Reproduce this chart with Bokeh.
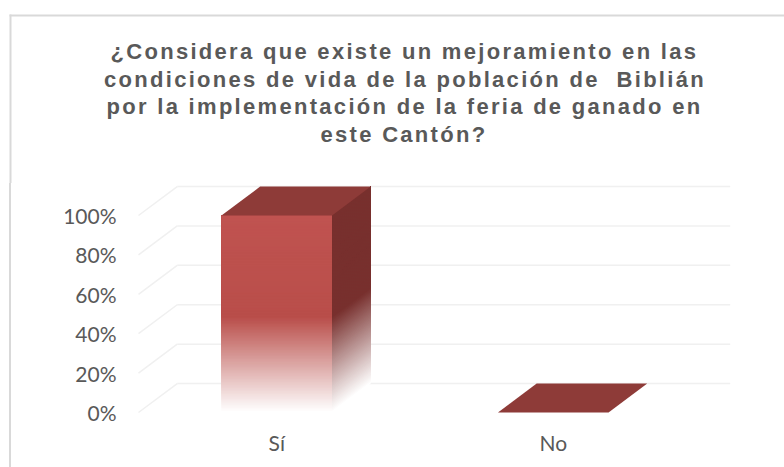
import numpy as np
from bokeh.plotting import figure
from bokeh.layouts import column
from bokeh.embed import file_html
from bokeh.resources import INLINE
from bokeh.models import Range1d, FixedTicker, NumeralTickFormatter, Label

categories = ["Sí", "No"]
values = [1.0, 0.0]
y_ticks = [0.0, 0.2, 0.4, 0.6, 0.8, 1.0]
title_lines = [
    "¿Considera que existe un mejoramiento en las",
    "condiciones de vida de la población de \u00a0Biblián",
    "por la implementación de la feria de ganado en",
    "este Cantón?",
]

FRONT = (192, 83, 80)
FRONT_LOW = (185, 78, 74)
SIDE = (120, 48, 46)
TOP = "#8e3b38"
GRID = "#f0f0f0"
TEXT = "#595959"
EDGE = "#d9d9d9"

bar_w = 0.40
dx, dy = 0.14, 0.147
px_x, px_y = 276.5, 197.0
L, R, T, B = 136, 733, 183, 414    # pixels of the plot frame
X0, Y0 = 138, 412                  # pixels of front-left origin
W, H = 784, 467

# title strip: its own figure so that only its text gets letter-spacing
pt = figure(width=W, height=T, output_backend="svg", toolbar_location=None,
            x_range=Range1d(0, W), y_range=Range1d(T, 0), frame_align=False,
            min_border=0, min_border_left=0, min_border_right=0, min_border_top=0, min_border_bottom=0,
            styles={"letter-spacing": "2.3px"})
pt.axis.visible = False
pt.grid.visible = False
pt.outline_line_color = None
pt.border_fill_color = "white"
pt.quad(left=9, right=W, top=14, bottom=16, fill_color=EDGE, line_color=None)
pt.quad(left=9, right=11, top=14, bottom=T, fill_color=EDGE, line_color=None)
line_starts = [110, 103.5, 106, 320]
for i, line in enumerate(title_lines):
    pt.add_layout(Label(x=line_starts[i], y=51 + 27.5 * i, text=line, text_font="Liberation Sans",
                        text_font_style="bold", text_font_size="22px", text_color=TEXT,
                        text_align="left", text_baseline="middle"))

# the left edge of the chart box continues as a painted background behind the transparent canvas border
p = figure(width=W, height=H - T, output_backend="svg", toolbar_location=None,
           x_range=Range1d((L - X0) / px_x, (R - X0) / px_x),
           y_range=Range1d((Y0 - B) / px_y, (Y0 - T) / px_y), frame_align=False,
           min_border_left=L, min_border_right=W - R,
           min_border_top=0, min_border_bottom=H - B,
           styles={"background": f"linear-gradient({EDGE},{EDGE}) 9px 0 / 2px 100% no-repeat"})
p.outline_line_color = None
p.grid.visible = False
p.background_fill_color = "white"
p.border_fill_color = None

pos = [i + 0.5 for i in range(len(categories))]

p.xaxis.ticker = FixedTicker(ticks=pos)
p.xaxis.major_label_overrides = {a: b for a, b in zip(pos, categories)}
p.yaxis.ticker = FixedTicker(ticks=y_ticks)
p.yaxis.formatter = NumeralTickFormatter(format="0%")
for ax in (p.xaxis[0], p.yaxis[0]):
    ax.axis_line_color = None
    ax.major_tick_line_color = None
    ax.minor_tick_line_color = None
    ax.major_label_text_font = "Lato"
    ax.major_label_text_font_size = "21px"
    ax.major_label_text_color = TEXT
p.yaxis.major_label_standoff = 14
p.xaxis.major_label_standoff = 9

n = len(y_ticks)
p.segment([0.0] * n, y_ticks, [dx] * n, [v + dy for v in y_ticks], line_color=GRID, line_width=1.5)
p.segment([dx] * n, [v + dy for v in y_ticks], [len(categories) + dx] * n, [v + dy for v in y_ticks],
          line_color=GRID, line_width=1.5)

def mix(c, t):
    return "#%02x%02x%02x" % tuple(int(round(255 + (a - 255) * t)) for a in c)

def blend(a, b, t):
    return tuple(x + (y - x) * t for x, y in zip(a, b))

for c, v in zip(pos, values):
    x1, x2 = c - bar_w / 2, c + bar_w / 2
    if v > 0:
        stop = 0.48 * v
        lo = np.linspace(0, v, 130)
        fade = np.clip(lo / stop, 0, 1)
        up = np.clip((lo - stop) / (v - stop), 0, 1)
        p.quad(left=x1, right=x2, bottom=lo, top=v,
               fill_color=[mix(blend(FRONT_LOW, FRONT, u), a) for u, a in zip(up, fade)], line_color=None)
        p.patches([[x2, x2 + dx, x2 + dx, x2] for _ in lo],
                  [[a, a + dy, v + dy, v] for a in lo],
                  fill_color=[mix(SIDE, a) for a in fade], line_color=None)
    p.patch([x1, x2, x2 + dx, x1 + dx], [v, v, v + dy, v + dy], fill_color=TOP, line_color=None)

open("out.html", "w").write(file_html(column(pt, p, spacing=0), INLINE))
